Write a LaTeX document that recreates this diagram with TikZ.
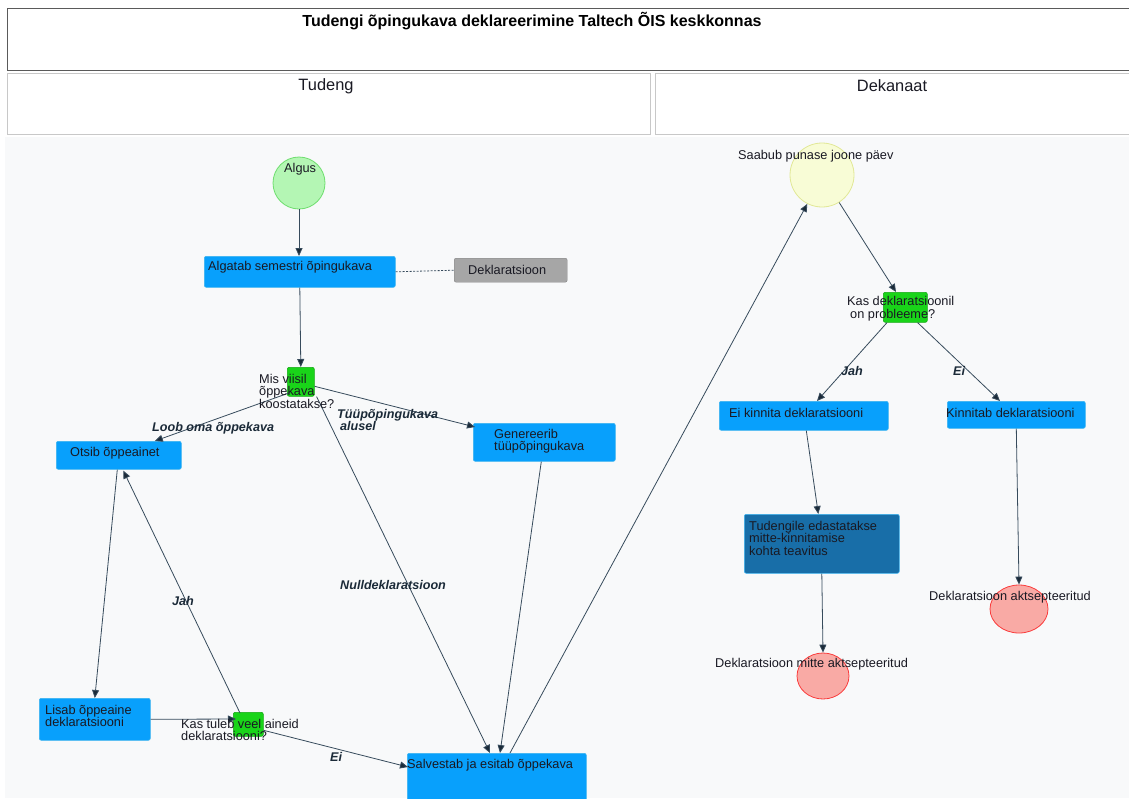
\documentclass[tikz,border=0pt]{standalone}
\usepackage{fontspec}
\setmainfont{Liberation Sans}
\usetikzlibrary{arrows.meta,calc,shapes.geometric}
\definecolor{boxblue}{RGB}{8,160,252}
\definecolor{boxblueline}{RGB}{60,180,240}
\definecolor{darkblue}{RGB}{24,110,168}
\definecolor{decgreen}{RGB}{25,212,25}
\definecolor{decgreenline}{RGB}{20,170,20}
\definecolor{grayfill}{RGB}{166,166,166}
\definecolor{startfill}{RGB}{180,246,180}
\definecolor{startline}{RGB}{110,222,110}
\definecolor{yelfill}{RGB}{248,252,214}
\definecolor{yelline}{RGB}{225,232,150}
\definecolor{redfill}{RGB}{249,170,165}
\definecolor{redline}{RGB}{250,60,60}
\definecolor{canvas}{RGB}{248,249,250}
\definecolor{textc}{RGB}{25,25,35}
\definecolor{labc}{RGB}{27,42,56}
\definecolor{edgec}{RGB}{55,75,92}
\definecolor{headline}{RGB}{200,200,200}
\definecolor{titleline}{RGB}{90,90,90}
\begin{document}
\begin{tikzpicture}[x=1pt,y=-1pt,
  font=\fontsize{12.75}{12.5}\selectfont,
  box/.style={draw=boxblueline, fill=boxblue, rounded corners=2pt, line width=0.6pt, inner sep=0pt, anchor=north west},
  dkbox/.style={box, draw=boxblueline, fill=darkblue},
  decbox/.style={draw=decgreenline, fill=decgreen, rounded corners=2pt, line width=0.6pt, inner sep=0pt, anchor=north west},
  txt/.style={anchor=west, inner sep=0pt, align=left, text=textc},
  lab/.style={anchor=west, inner sep=0pt, align=left, text=labc, font=\fontsize{12.6}{12.5}\selectfont\bfseries\itshape},
  conn/.style={draw=edgec, line width=0.8pt, -{Triangle[length=8pt,width=7pt,fill=labc]}},
  head/.style={draw=headline, line width=1.2pt, fill=white}
]
\useasboundingbox (0,0) rectangle (1129,798);
\fill[white] (0,0) rectangle (1129,798);
% canvas and headers
\fill[canvas] (5,137) rectangle (1129,798);
\node[draw=titleline, line width=0.8pt, fill=white, inner sep=0pt, anchor=north west, minimum width=1122pt, minimum height=62pt] (title) at (7,8) {};
\node[anchor=center, inner sep=0pt, font=\fontsize{16}{17}\selectfont\bfseries, text=black] (titletxt) at (532,21) {Tudengi õpingukava deklareerimine Taltech ÕIS keskkonnas};
\node[head, inner sep=0pt, anchor=north west, minimum width=643pt, minimum height=61pt] (lane1) at (7,73) {};
\node[head, inner sep=0pt, anchor=north west, minimum width=474pt, minimum height=61pt] (lane2) at (655,73) {};
\node[inner sep=0pt, text=textc, font=\fontsize{16.4}{17}\selectfont] (lane1txt) at (326,86) {Tudeng};
\node[inner sep=0pt, text=textc, font=\fontsize{16.4}{17}\selectfont] (lane2txt) at (892,86) {Dekanaat};

% shapes
\node[circle, draw=startline, fill=startfill, line width=0.8pt, minimum size=52pt, inner sep=0pt] (algus) at (299,183) {};
\node[box, minimum width=191pt, minimum height=31pt] (algatab) at (204,256) {};
\node[draw=grayfill!80!black, fill=grayfill, rounded corners=2pt, line width=0.4pt, inner sep=0pt, anchor=north west, minimum width=113pt, minimum height=24pt] (dekl) at (454,258) {};
\node[decbox, minimum width=27pt, minimum height=29pt] (dec1) at (287,367) {};
\node[box, minimum width=125pt, minimum height=28pt] (otsib) at (56,441) {};
\node[box, minimum width=142pt, minimum height=38pt] (gen) at (473,423) {};
\node[box, minimum width=111pt, minimum height=42pt] (lisab) at (39,698) {};
\node[decbox, minimum width=30pt, minimum height=24pt] (dec2) at (233,712) {};
\node[box, minimum width=179pt, minimum height=70pt] (salv) at (407,753) {};
\node[circle, draw=yelline, fill=yelfill, line width=0.8pt, minimum size=64pt, inner sep=0pt] (saabub) at (822,175) {};
\node[decbox, minimum width=44pt, minimum height=30pt] (dec3) at (883,292) {};
\node[box, minimum width=169pt, minimum height=29pt] (eik) at (719,401) {};
\node[box, minimum width=138pt, minimum height=27pt] (kinn) at (947,401) {};
\node[dkbox, minimum width=155pt, minimum height=59pt] (tud) at (744,514) {};
\node[ellipse, draw=redline, fill=redfill, line width=0.8pt, minimum width=52pt, minimum height=46pt, inner sep=0pt] (red1) at (823,676) {};
\node[ellipse, draw=redline, fill=redfill, line width=0.8pt, minimum width=58pt, minimum height=48pt, inner sep=0pt] (red2) at (1019,609) {};

% connectors
\draw[conn] (algus.south) -- (algus.south |- algatab.north);
\draw[conn] (algatab.south) -- (dec1.north);
\draw[edgec, line width=0.8pt, dashed, dash pattern=on 2pt off 1.5pt] (algatab.east) -- (dekl.west);
\draw[conn] ($(dec1.south west)+(3,-4)$) -- ($(otsib.north)+(36,0)$);
\draw[conn] ($(dec1.east)+(0,4.5)$) -- ($(gen.north west)+(2,4)$);
\draw[conn] ($(dec1.south east)+(2,0)$) -- ($(salv.north west)+(83,0)$);
\draw[conn] ($(gen.south)+(-3,0)$) -- ($(salv.north west)+(93,0)$);
\draw[conn] ($(otsib.south)+(-1.5,0)$) -- (lisab.north);
\draw[conn] (lisab.east) -- ($(dec2.north west)+(3,7)$);
\draw[conn] ($(dec2.north west)+(7,1)$) -- ($(otsib.south)+(4.5,1)$);
\draw[conn] ($(dec2.east)+(0,6)$) -- ($(salv.north west)+(1,14)$);
\draw[conn] ($(salv.north west)+(103,0)$) -- (saabub.-117);
\draw[conn] (saabub.-58) -- ($(dec3.north west)+(13,0)$);
\draw[conn] ($(dec3.south west)+(4,0)$) -- ($(eik.north west)+(98,0)$);
\draw[conn] ($(dec3.south east)+(-10,0)$) -- ($(kinn.north west)+(53,0)$);
\draw[conn] ($(eik.south)+(2.5,0)$) -- ($(tud.north)+(-3.5,0)$);
\draw[conn] (tud.south) -- (red1.north);
\draw[conn] (kinn.south) -- (red2.north);

% texts
\node[txt] (algustxt) at ($(algus.north)+(-15,13)$) {Algus};
\node[txt] (algatabtxt) at ($(algatab.north west)+(4,11)$) {Algatab semestri õpingukava};
\node[txt] (dekltxt) at ($(dekl.north west)+(14,11.5)$) {Deklaratsioon};
\node[txt] (dec1txt) at (259,391) {Mis viisil\\õppekava\\koostatakse?};
\node[txt] (otsibtxt) at ($(otsib.north west)+(14,12)$) {Otsib õppeainet};
\node[txt] (gentxt) at ($(gen.north west)+(21,18)$) {Genereerib\\tüüpõpingukava};
\node[txt] (lisabtxt) at ($(lisab.north west)+(6,18)$) {Lisab õppeaine\\deklaratsiooni};
\node[txt] (dec2txt) at (181,730) {Kas tuleb veel aineid\\deklaratsiooni?};
\node[txt] (salvtxt) at ($(salv.north west)+(0,12)$) {Salvestab ja esitab õppekava};
\node[txt] (saabubtxt) at (738,156) {Saabub punase joone päev};
\node[txt] (dec3txt) at (847,308.5) {Kas deklaratsioonil\\\hspace{3pt}on probleeme?};
\node[txt] (eiktxt) at ($(eik.north west)+(10,12)$) {Ei kinnita deklaratsiooni};
\node[txt] (kinntxt) at ($(kinn.north west)+(-1,12)$) {Kinnitab deklaratsiooni};
\node[txt] (tudtxt) at ($(tud.north west)+(5,24)$) {Tudengile edastatakse\\mitte-kinnitamise\\kohta teavitus};
\node[txt] (red1txt) at (715,664) {Deklaratsioon mitte aktsepteeritud};
\node[txt] (red2txt) at (929,597) {Deklaratsioon aktsepteeritud};

% edge labels
\node[lab] (l1) at (152,428) {Loob oma õppekava};
\node[lab] (l2) at (337,420) {Tüüpõpingukava\\\hspace{3pt}alusel};
\node[lab] (l3) at (340,585) {Nulldeklaratsioon};
\node[lab] (l4) at (172,601) {Jah};
\node[lab] (l5) at (330,757) {Ei};
\node[lab] (l6) at (841,371) {Jah};
\node[lab] (l7) at (953,371) {Ei};
\end{tikzpicture}
\end{document}
